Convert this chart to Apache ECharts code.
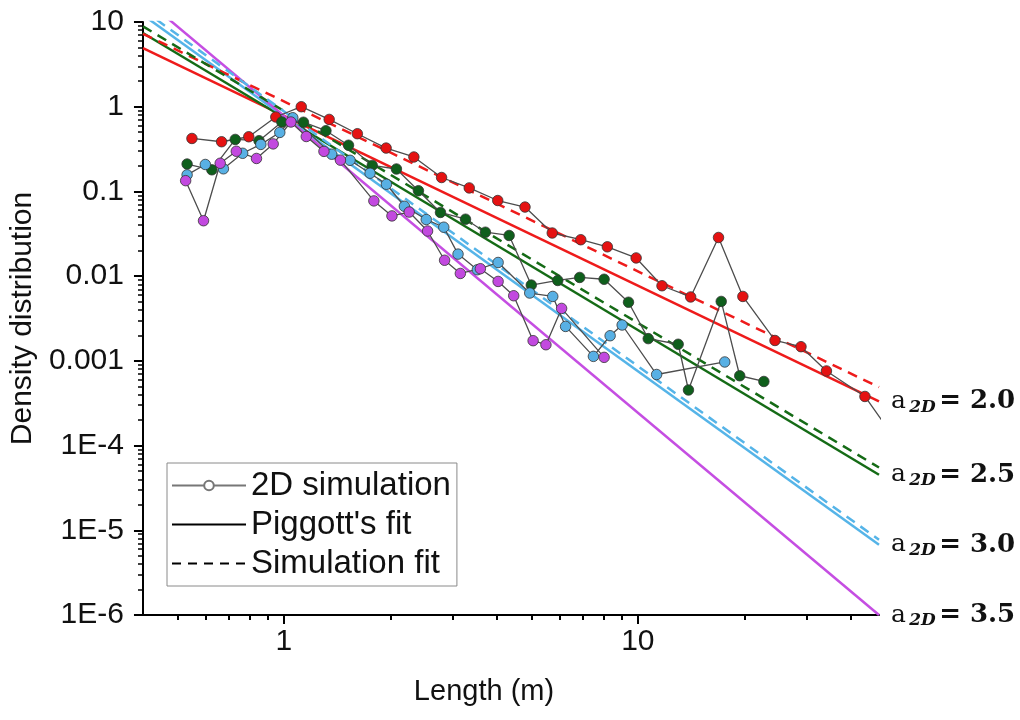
<!DOCTYPE html>
<html>
<head>
<meta charset="utf-8">
<script src="https://cdn.jsdelivr.net/npm/echarts@6/dist/echarts.min.js"></script>
<style>
  html, body { margin: 0; padding: 0; background: #fff; }
  #main { width: 1020px; height: 720px; }
</style>
</head>
<body>
<div id="main"></div>
<script>
// simulated density points [length, density], one list per exponent
const sim20 = [[0.55,0.422],[0.667,0.386],[0.796,0.442],[0.949,0.756],[1.12,1.0],[1.343,0.708],[1.613,0.48],
  [1.945,0.325],[2.33,0.255],[2.79,0.146],[3.34,0.11],[4.02,0.0781],[4.8,0.0654],[5.73,0.0323],[6.9,0.0269],
  [8.2,0.0222],[9.89,0.0164],[11.7,0.0077],[14.1,0.00568],[16.9,0.0286],[19.8,0.00576],[24.4,0.00174],
  [28.9,0.00147],[34.1,0.00076],[43.8,0.00038],[55,0.0001]]
const sim25 = [[0.533,0.2106],[0.626,0.18],[0.729,0.411],[0.851,0.397],[0.987,0.66],[1.136,0.656],[1.315,0.521],
  [1.523,0.351],[1.777,0.203],[2.08,0.184],[2.4,0.102],[2.77,0.0565],[3.26,0.047],[3.71,0.033],[4.33,0.0302],
  [5.0,0.00785],[5.94,0.00889],[6.85,0.00965],[8.03,0.00919],[9.41,0.00492],[10.7,0.00183],[13.0,0.00157],
  [13.9,0.000453],[17.2,0.00503],[19.4,0.000667],[22.7,0.000571]]
const sim30 = [[0.533,0.157],[0.6,0.208],[0.675,0.185],[0.765,0.282],[0.861,0.359],[0.974,0.497],[1.06,0.741],
  [1.365,0.275],[1.538,0.233],[1.752,0.164],[1.949,0.1215],[2.19,0.0668],[2.525,0.0466],[2.83,0.0378],
  [3.105,0.0182],[3.52,0.0119],[4.03,0.0145],[4.95,0.00632],[5.75,0.00576],[6.25,0.00255],[7.49,0.00113],
  [8.35,0.00198],[9.03,0.00265],[11.3,0.00069],[17.6,0.00097]]
const sim35 = [[0.528,0.134],[0.593,0.0451],[0.661,0.215],[0.734,0.298],[0.837,0.245],[0.933,0.364],[1.047,0.66],
  [1.157,0.445],[1.298,0.297],[1.445,0.234],[1.796,0.0773],[2.02,0.0514],[2.26,0.0571],[2.547,0.0341],
  [2.845,0.0154],[3.152,0.01076],[3.59,0.01224],[4.03,0.00866],[4.46,0.00587],[5.06,0.00173],[5.5,0.00155],
  [6.09,0.00416],[8.03,0.0011]]

// fitted power laws, end points read at the plot edges
const piggott20 = [[0.4,4.93],[48,3.32e-4]]
const piggott25 = [[0.4,7.42],[48,4.52e-5]]
const piggott30 = [[0.4,12.1],[48,6.74e-6]]
const piggott35 = [[0.4,19.4],[48,1.0e-6]]
const simfit20 = [[0.4,7.26],[48,4.9e-4]]
const simfit25 = [[0.4,8.87],[48,5.51e-5]]
const simfit30 = [[0.4,13.9],[48,7.73e-6]]

const exponents = ['2.0', '2.5', '3.0', '3.5']
const xMajor = [1, 10]
const xMinor = [0.5,0.6,0.7,0.8,0.9,2,3,4,5,6,7,8,9,20,30,40]
const yMajor = [1e-6,1e-5,1e-4,0.001,0.01,0.1,1,10]
const yMajorLabels = ['1E-6','1E-5','1E-4','0.001','0.01','0.1','1','10']
const yMinor = []
yMajor.slice(0, -1).forEach(d => { for (let m = 2; m <= 9; m++) yMinor.push(+(m * d).toPrecision(3)) })

const colors = ['#ee1b1b', '#156b16', '#55b4e8', '#c54ee2']
const dotColors = ['#e51212', '#0f5f1c', '#58b0e4', '#c249df']

const font = 'Liberation Sans, Arial, sans-serif'

let chart = echarts.init(document.getElementById('main'))

function simSeries(data, i) {
    return {
        type: 'line', name: 'sim' + i, data: data, z: 4,
        symbol: 'circle', symbolSize: 10.5,
        lineStyle: { color: '#4d4d4d', width: 1.3 },
        itemStyle: { color: dotColors[i], borderColor: '#333', borderWidth: 0.8 },
        emphasis: { disabled: true }
    }
}

function fitSeries(data, i, dashed, label) {
    let s = {
        type: 'line', name: (dashed ? 'fit' : 'pig') + i, data: data, z: 3,
        symbol: 'none',
        lineStyle: { color: colors[i], width: 2.5, type: dashed ? [10, 7] : 'solid' },
        emphasis: { disabled: true }
    }
    if (label) {
        s.endLabel = {
            show: true, distance: 12,
            formatter: '{a|a} {s|2D} {e|= ' + exponents[i] + '}',
            rich: {
                a: { fontFamily: 'DejaVu Serif', fontSize: 25, color: '#111' },
                s: { fontFamily: 'DejaVu Serif', fontStyle: 'italic', fontWeight: 'bold', fontSize: 17, color: '#111', padding: [12, 0, 0, 0] },
                e: { fontFamily: 'DejaVu Serif', fontWeight: 'bold', fontSize: 26, color: '#111' }
            }
        }
    }
    return s
}

const option = {
    backgroundColor: '#fff',
    animation: false,
    grid: { left: 141, right: 141, top: 22, bottom: 105 },
    legend: {
        orient: 'vertical', left: 167, top: 463,
        data: ['2D simulation', "Piggott's fit", 'Simulation fit'],
        itemWidth: 74, itemHeight: 12, itemGap: 6,
        padding: [6, 6, 6, 4],
        borderColor: '#8a8a8a', borderWidth: 1, backgroundColor: '#fff',
        textStyle: { fontSize: 33, color: '#111', fontFamily: font }
    },
    xAxis: [
        {
            type: 'log', min: 0.4, max: 48, logBase: 10,
            name: 'Length (m)', nameLocation: 'middle', nameGap: 62,
            nameTextStyle: { fontSize: 29, color: '#111', fontFamily: font, padding: [0, 54, 0, 0] },
            axisLine: { lineStyle: { color: '#000', width: 2 } },
            axisTick: { customValues: xMajor, length: 9, lineStyle: { color: '#000', width: 2 } },
            axisLabel: { customValues: xMajor, fontSize: 30, color: '#111', fontFamily: font, margin: 12 },
            splitLine: { show: false }
        },
        {
            type: 'log', min: 0.4, max: 48, logBase: 10, position: 'bottom',
            axisLine: { show: false },
            axisTick: { customValues: xMinor, length: 5, lineStyle: { color: '#000', width: 2 } },
            axisLabel: { show: false },
            splitLine: { show: false }
        }
    ],
    yAxis: [
        {
            type: 'log', min: 1e-6, max: 10, logBase: 10,
            name: 'Density distribution', nameLocation: 'middle', nameGap: 104,
            nameTextStyle: { fontSize: 30, color: '#111', fontFamily: font },
            axisLine: { lineStyle: { color: '#000', width: 2 } },
            axisTick: { customValues: yMajor, length: 9, lineStyle: { color: '#000', width: 2 } },
            axisLabel: {
                customValues: yMajor, fontSize: 30, color: '#111', fontFamily: font, margin: 19,
                formatter: v => yMajorLabels[yMajor.findIndex(t => Math.abs(Math.log10(t) - Math.log10(v)) < 1e-6)]
            },
            splitLine: { show: false }
        },
        {
            type: 'log', min: 1e-6, max: 10, logBase: 10, position: 'left',
            axisLine: { show: false },
            axisTick: { customValues: yMinor, length: 5, lineStyle: { color: '#000', width: 1.5 } },
            axisLabel: { show: false },
            splitLine: { show: false }
        }
    ],
    series: [
        fitSeries(piggott20, 0, false, true),
        fitSeries(piggott25, 1, false, true),
        fitSeries(piggott30, 2, false, true),
        fitSeries(piggott35, 3, false, true),
        fitSeries(simfit20, 0, true, false),
        fitSeries(simfit25, 1, true, false),
        fitSeries(simfit30, 2, true, false),
        simSeries(sim20, 0),
        simSeries(sim25, 1),
        simSeries(sim30, 2),
        simSeries(sim35, 3),
        {
            type: 'line', name: '2D simulation', data: [], symbol: 'circle', symbolSize: 7,
            lineStyle: { color: '#777', width: 1 },
            itemStyle: { color: '#fff', borderColor: '#777', borderWidth: 1 }
        },
        {
            type: 'line', name: "Piggott's fit", data: [], symbol: 'none',
            lineStyle: { color: '#000', width: 2.5 }, itemStyle: { color: 'rgba(0,0,0,0)' }
        },
        {
            type: 'line', name: 'Simulation fit', data: [], symbol: 'none',
            lineStyle: { color: '#000', width: 2, type: [9, 7] }, itemStyle: { color: 'rgba(0,0,0,0)' }
        }
    ]
}

chart.setOption(option)
</script>
</body>
</html>
